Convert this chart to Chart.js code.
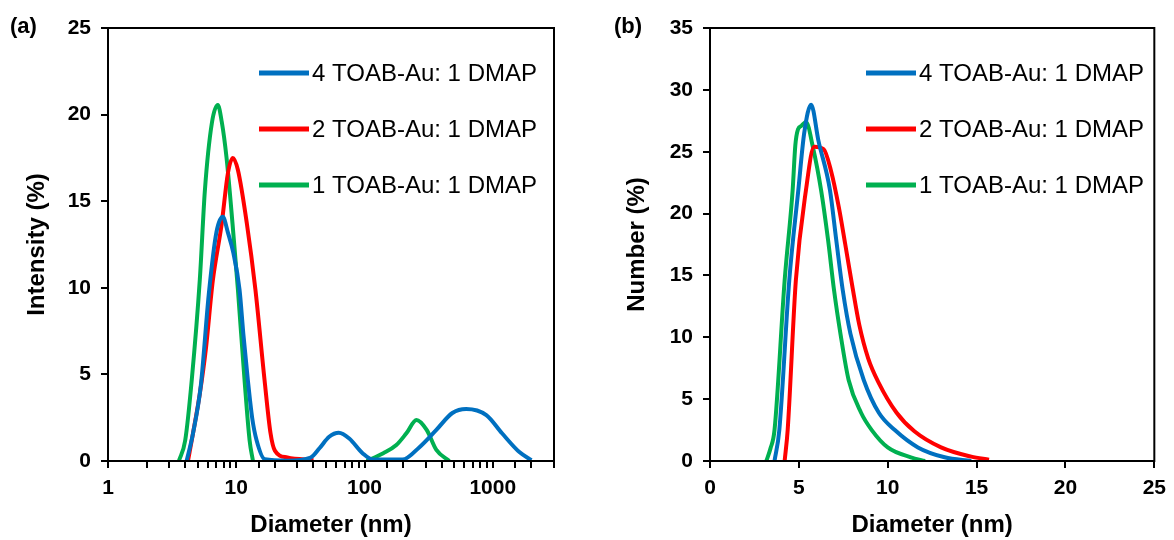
<!DOCTYPE html>
<html lang="en">
<head>
    <meta charset="UTF-8">
    <title>DLS size distributions</title>
    <script src="https://cdn.jsdelivr.net/npm/chart.js"></script>
    <style>
        body { margin: 0; background: #fff; }
        #wrap { position: relative; width: 1174px; height: 540px; }
        .panel { position: absolute; top: 0; }
    </style>
</head>
<body>
<div id="wrap">
    <div class="panel" style="left:0px"><canvas id="chartA" width="590" height="540"></canvas></div>
    <div class="panel" style="left:590px"><canvas id="chartB" width="584" height="540"></canvas></div>
</div>

<script>
    // series names and colours
    const seriesNames = ['4 TOAB-Au: 1 DMAP', '2 TOAB-Au: 1 DMAP', '1 TOAB-Au: 1 DMAP'];
    const seriesColors = ['#0070C0', '#FF0000', '#00B050'];

    // (a) intensity distribution, diameter in nm (log axis)
    const intX4 = [4.1, 4.6, 5.3, 6.1, 7.0, 7.85, 8.6, 9.5, 10.6, 11.4, 12.3, 13.3, 14.4, 16.7, 25, 38, 44.7, 53, 63, 76, 96.5, 116, 197, 268, 363, 484, 620, 890, 1180, 1620, 2000];
    const intY4 = [0, 1.6, 4.4, 9.6, 13.2, 14.1, 13.2, 12.0, 9.9, 7.2, 4.7, 2.5, 1.2, 0.1, 0.02, 0.2, 0.75, 1.4, 1.63, 1.3, 0.45, 0.08, 0.08, 0.8, 1.8, 2.77, 3.0, 2.65, 1.6, 0.5, 0.05];

    const intX2 = [4.2, 4.6, 5.2, 5.8, 6.56, 7.7, 8.6, 9.4, 10.3, 12.1, 14.1, 16.6, 18.5, 20, 25, 40];
    const intY2 = [0, 1.6, 3.9, 6.5, 10.4, 13.7, 16.6, 17.5, 16.8, 13.7, 9.9, 4.7, 1.6, 0.6, 0.2, 0.05];

    // null = no line drawn between the two peaks
    const intX1 = [3.57, 4.0, 4.5, 5.2, 5.69, 6.45, 7.18, 7.7, 8.4, 9.35, 10.3, 11.6, 12.7, 13.5, 50, 104, 140, 177, 212, 254, 305, 363, 458];
    const intY1 = [0, 1.2, 4.7, 10.5, 15.6, 19.5, 20.55, 19.6, 17.5, 13.7, 9.9, 4.68, 1.2, 0, null, 0, 0.45, 0.92, 1.6, 2.37, 1.8, 0.64, 0];

    // (b) number distribution, diameter in nm (linear axis)
    const numX4 = [3.63, 3.9, 4.46, 4.97, 5.3, 5.69, 6.1, 6.75, 7.1, 7.47, 7.9, 8.65, 9.5, 10.4, 11.7, 13.2, 14.7];
    const numY4 = [0, 2.5, 14.6, 21.9, 26.5, 28.8, 25.9, 21.9, 17.9, 13.8, 10.3, 6.55, 3.9, 2.5, 1.1, 0.3, 0];

    const numX2 = [4.2, 4.37, 4.83, 5.4, 5.86, 6.4, 6.8, 7.25, 7.6, 8.0, 8.4, 8.9, 9.5, 10.5, 11.5, 13.0, 14.7, 15.7];
    const numY2 = [0, 2.5, 14.6, 21.9, 25.4, 25.2, 23.5, 20.5, 17.6, 14.2, 11.0, 8.3, 6.3, 3.9, 2.4, 1.1, 0.35, 0.1];

    const numX1 = [3.17, 3.4, 3.63, 4.2, 4.65, 4.8, 4.95, 5.15, 5.4, 5.8, 6.25, 6.64, 6.98, 7.35, 7.8, 8.5, 9.1, 10.0, 11.3, 12.1];
    const numY1 = [0, 1.0, 2.5, 14.6, 21.9, 25.5, 26.8, 27.1, 27.4, 25.3, 21.9, 17.9, 13.8, 10.2, 6.55, 3.9, 2.5, 1.1, 0.3, 0];

    // tick labels and axis ranges
    const intTickLabelsX = [1, 10, 100, 1000];
    const intRangeX = [1, 3000];
    const intRangeY = [0, 25];
    const numRangeX = [0, 25];
    const numRangeY = [0, 35];

    const FONT = 'Arial, "Liberation Sans", sans-serif';

    function pts(xs, ys) {
        return xs.map((x, i) => ({ x: x, y: ys[i] }));
    }

    function makeSets(groups) {
        return groups.map((g, i) => ({
            label: seriesNames[i],
            data: pts(g[0], g[1]),
            borderColor: seriesColors[i],
            backgroundColor: seriesColors[i],
            borderWidth: 4,
            pointRadius: 0,
            showLine: true,
            fill: false,
            spanGaps: false,
            cubicInterpolationMode: 'monotone'
        }));
    }

    // box around the plot area
    const framePlugin = {
        id: 'frame',
        afterDraw(chart) {
            const a = chart.chartArea;
            const c = chart.ctx;
            c.save();
            c.strokeStyle = '#000';
            c.lineWidth = 2;
            c.strokeRect(a.left, a.top, a.right - a.left, a.bottom - a.top);
            c.restore();
        }
    };

    // legend drawn inside the plot, line + text
    const insideLegend = {
        id: 'insideLegend',
        afterDraw(chart, args, opts) {
            const c = chart.ctx;
            c.save();
            c.font = opts.font;
            c.textBaseline = 'middle';
            chart.data.datasets.forEach((ds, i) => {
                const y = opts.y + i * opts.gap;
                c.strokeStyle = ds.borderColor;
                c.lineWidth = 5;
                c.beginPath();
                c.moveTo(opts.x, y);
                c.lineTo(opts.x + opts.lineLen, y);
                c.stroke();
                c.fillStyle = '#000';
                c.fillText(ds.label, opts.x + opts.lineLen + 3, y + 1);
            });
            c.restore();
        }
    };

    // (a) / (b) tag
    const panelTag = {
        id: 'panelTag',
        afterDraw(chart, args, opts) {
            const c = chart.ctx;
            c.save();
            c.font = 'bold 22px ' + FONT;
            c.fillStyle = '#000';
            c.textBaseline = 'middle';
            c.fillText(opts.text, opts.x, opts.y);
            c.restore();
        }
    };

    function axisStyle() {
        return {
            grid: { drawOnChartArea: false, drawTicks: true, tickLength: 7, color: '#000', lineWidth: 2 },
            border: { display: true, color: '#000', width: 2 },
        };
    }

    function buildConfig(sets, xScale, yScale, opts) {
        return {
            type: 'scatter',
            data: { datasets: sets },
            options: {
                responsive: false,
                animation: false,
                layout: { padding: { top: 28, right: opts.padRight, bottom: 0, left: 0 } },
                plugins: {
                    legend: { display: false },
                    tooltip: { enabled: false },
                    insideLegend: { x: opts.legX, y: 73, gap: 56, lineLen: 50, font: '24px ' + FONT },
                    panelTag: { text: opts.tag, x: opts.tagX, y: 27 }
                },
                scales: { x: xScale, y: yScale }
            },
            plugins: [framePlugin, insideLegend, panelTag]
        };
    }

    const tickFont = { family: FONT, size: 21, weight: 'bold' };
    const titleFont = { family: FONT, size: 24, weight: 'bold' };

    // chart (a)
    const xA = Object.assign(axisStyle(), {
        type: 'logarithmic',
        min: intRangeX[0],
        max: intRangeX[1],
        ticks: {
            color: '#000', font: tickFont, padding: 8, autoSkip: false, maxRotation: 0,
            callback: (v) => intTickLabelsX.includes(v) ? String(v) : ''
        },
        title: { display: true, text: 'Diameter (nm)', color: '#000', font: titleFont, padding: { top: 0, bottom: 0 } },
        afterFit: (s) => { s.height = 79; }
    });
    const yA = Object.assign(axisStyle(), {
        min: intRangeY[0],
        max: intRangeY[1],
        ticks: { color: '#000', font: tickFont, stepSize: 5, padding: 10 },
        title: { display: true, text: 'Intensity (%)', color: '#000', font: titleFont, padding: { top: 23, bottom: 0 } },
        afterFit: (s) => { s.width = 108; }
    });
    new Chart(document.getElementById('chartA'),
        buildConfig(makeSets([[intX4, intY4], [intX2, intY2], [intX1, intY1]]), xA, yA,
            { padRight: 36, legX: 259, tag: '(a)', tagX: 10 }));

    // chart (b)
    const xB = Object.assign(axisStyle(), {
        type: 'linear',
        min: numRangeX[0],
        max: numRangeX[1],
        ticks: { color: '#000', font: tickFont, stepSize: 5, padding: 8, maxRotation: 0 },
        title: { display: true, text: 'Diameter (nm)', color: '#000', font: titleFont, padding: { top: 0, bottom: 0 } },
        afterFit: (s) => { s.height = 79; }
    });
    const yB = Object.assign(axisStyle(), {
        min: numRangeY[0],
        max: numRangeY[1],
        ticks: { color: '#000', font: tickFont, stepSize: 5, padding: 10 },
        title: { display: true, text: 'Number (%)', color: '#000', font: titleFont, padding: { top: 33, bottom: 0 } },
        afterFit: (s) => { s.width = 120; }
    });
    new Chart(document.getElementById('chartB'),
        buildConfig(makeSets([[numX4, numY4], [numX2, numY2], [numX1, numY1]]), xB, yB,
            { padRight: 16, legX: 276, tag: '(b)', tagX: 24 }));
</script>
</body>
</html>
